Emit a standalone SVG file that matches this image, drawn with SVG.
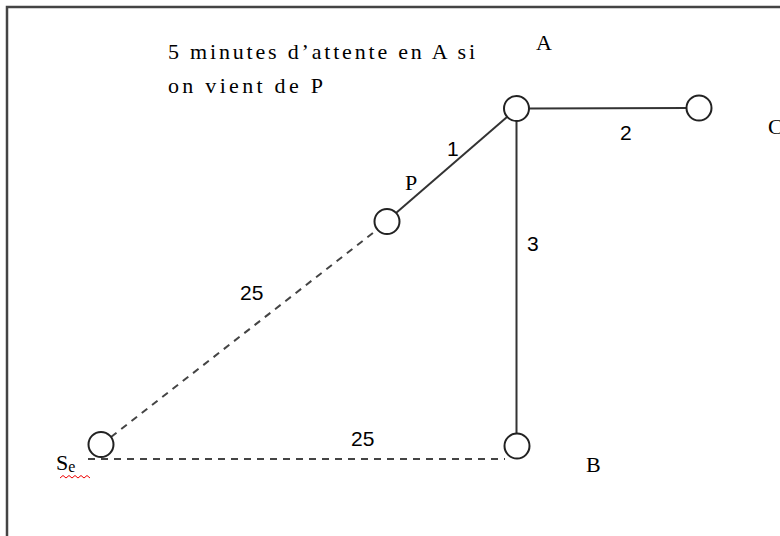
<svg xmlns="http://www.w3.org/2000/svg" width="780" height="536" viewBox="0 0 780 536">
<style>
.t{font-family:"Liberation Serif","Times New Roman",serif;font-size:22px;fill:#000}
.n{font-family:"Liberation Sans",Arial,sans-serif;font-size:21px;fill:#000}
.node{fill:#fff;stroke:#222;stroke-width:2}
.solid{stroke:#333;stroke-width:2;fill:none}
.dash{stroke:#444;stroke-width:2;fill:none;stroke-dasharray:7,6}
</style>
<rect width="780" height="536" fill="#fff"/>
<path d="M7,537 V7 H781" fill="none" stroke="#444" stroke-width="2.5"/>
<g id="connectors">
<line class="solid" x1="529" y1="108.5" x2="687" y2="108"/>
<line class="solid" x1="516.5" y1="121" x2="516.5" y2="433"/>
<line class="solid" x1="396" y1="213" x2="507" y2="117"/>
<line class="dash" x1="111" y1="437" x2="378" y2="229"/>
<line class="dash" x1="88" y1="459" x2="505" y2="459"/>
</g>
<g id="node-A"><circle class="node" cx="516.5" cy="108.5" r="12.5"/><text class="t" x="536" y="50">A</text></g>
<g id="node-C"><circle class="node" cx="699" cy="108" r="12.5"/><text class="t" x="768" y="134">C</text></g>
<g id="node-P"><circle class="node" cx="387" cy="221.5" r="12.5"/><text class="t" x="405" y="190">P</text></g>
<g id="node-S"><circle class="node" cx="101" cy="444.5" r="12.5"/><text class="t" x="56" y="470">S<tspan font-size="16" dy="2">e</tspan></text><path d="M60,478 l3,-2.5 l3,2.5 l3,-2.5 l3,2.5 l3,-2.5 l3,2.5 l3,-2.5 l3,2.5 l3,-2.5 l3,2.5" fill="none" stroke="#e00" stroke-width="1"/></g>
<g id="node-B"><circle class="node" cx="517" cy="446" r="12.5"/><text class="t" x="586" y="472">B</text></g>
<g id="labels">
<text class="t" x="168" y="59" textLength="307" lengthAdjust="spacing">5 minutes  d’attente en A si</text>
<text class="t" x="168" y="93" textLength="155" lengthAdjust="spacing">on vient de P</text>
<text class="n" x="447" y="156">1</text>
<text class="n" x="620" y="140">2</text>
<text class="n" x="527" y="251">3</text>
<text class="n" x="240" y="300">25</text>
<text class="n" x="351" y="446">25</text>
</g>
</svg>
